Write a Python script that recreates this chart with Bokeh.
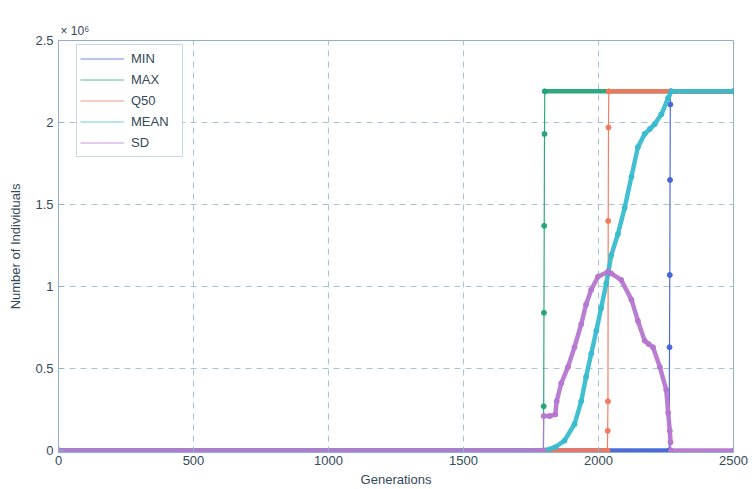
from bokeh.plotting import figure
from bokeh.models import Range1d, Legend, LegendItem, FixedTicker, ColumnDataSource
from bokeh.embed import file_html
from bokeh.resources import INLINE

# ---- data (values in units of 10^6 individuals) ----
gen_min = [0, 2262, 2263, 2264, 2265, 2266, 2267, 2500]
val_min = [0, 0, 0.63, 1.07, 1.65, 2.11, 2.19, 2.19]

gen_max = [0, 1796, 1797, 1798, 1799, 1800, 1801, 2500]
val_max = [0, 0, 0.27, 0.84, 1.37, 1.93, 2.19, 2.19]

gen_q50 = [0, 2033, 2034, 2035, 2036, 2037, 2038, 2500]
val_q50 = [0, 0, 0.12, 0.30, 1.40, 1.97, 2.19, 2.19]

gen_mean = [0, 1799, 1840, 1874, 1911, 1936, 1954, 1973, 1992, 2010, 2029, 2047,
            2072, 2097, 2122, 2146, 2171, 2190, 2208, 2233, 2258, 2270, 2500]
val_mean = [0, 0, 0.02, 0.06, 0.16, 0.30, 0.45, 0.59, 0.73, 0.87, 1.02, 1.19,
            1.32, 1.48, 1.67, 1.85, 1.93, 1.96, 1.99, 2.05, 2.15, 2.19, 2.19]

gen_sd = [0, 1796, 1797, 1820, 1840, 1845, 1862, 1887, 1911, 1936, 1954, 1973, 1998,
          2035, 2047, 2084, 2122, 2146, 2171, 2185, 2202, 2227, 2251, 2258, 2264, 2267, 2268, 2500]
val_sd = [0, 0, 0.21, 0.21, 0.22, 0.30, 0.41, 0.51, 0.63, 0.77, 0.89, 0.98, 1.06,
          1.09, 1.08, 1.04, 0.92, 0.79, 0.67, 0.65, 0.63, 0.51, 0.37, 0.23, 0.12, 0.05, 0, 0]

names = ["MIN", "MAX", "Q50", "MEAN", "SD"]
colors = ["#4464d6", "#24a37a", "#f2775c", "#38bccd", "#b577cf"]
series = [(gen_min, val_min), (gen_max, val_max), (gen_q50, val_q50),
          (gen_mean, val_mean), (gen_sd, val_sd)]

x_ticks = [0, 500, 1000, 1500, 2000, 2500]
y_ticks = [0, 0.5, 1, 1.5, 2, 2.5]
y_tick_labels = ["0", "0.5", "1", "1.5", "2", "2.5"]

FONT = "Liberation Sans"
TXT = "#34495a"
AX = "#8fb0cf"

p = figure(width=752, height=489, output_backend="svg", toolbar_location=None,
           x_range=Range1d(0, 2500), y_range=Range1d(-0.012, 2.5),
           min_border_left=58, min_border_right=19, min_border_top=40, min_border_bottom=36,
           background_fill_color="white", border_fill_color="white",
           title="× 10⁶")
p.title.text_font = FONT
p.title.text_font_size = "12px"
p.title.text_font_style = "normal"
p.title.text_color = TXT
p.title.align = "left"
p.title.offset = 2
p.title.standoff = 5
p.outline_line_color = AX
p.outline_line_width = 1

for ax in (p.xaxis[0], p.yaxis[0]):
    ax.axis_line_color = AX
    ax.major_tick_line_color = AX
    ax.major_tick_in = 5
    ax.major_tick_out = 0
    ax.minor_tick_line_color = None
    ax.major_label_text_font = FONT
    ax.major_label_text_font_size = "13px"
    ax.major_label_text_color = TXT
    ax.axis_label_text_font = FONT
    ax.axis_label_text_font_size = "13px"
    ax.axis_label_text_font_style = "normal"
    ax.axis_label_text_color = TXT

p.xaxis.ticker = FixedTicker(ticks=x_ticks)
p.yaxis.ticker = FixedTicker(ticks=y_ticks)
p.xaxis.major_label_overrides = {t: str(t) for t in x_ticks}
p.yaxis.major_label_overrides = dict(zip(y_ticks, y_tick_labels))
p.xaxis.axis_label = "Generations"
p.yaxis.axis_label = "Number of Individuals"
p.xaxis.major_label_standoff = 3
p.xaxis.axis_label_standoff = 4
p.yaxis.major_label_standoff = 5
p.yaxis.axis_label_standoff = 9

p.xgrid.grid_line_color = "#a9c2da"
p.ygrid.grid_line_color = "#a9c2da"
p.xgrid.grid_line_dash = "6 5"
p.ygrid.grid_line_dash = "6 5"

items = []
for name, col, (g, v) in zip(names, colors, series):
    # consecutive segments: thin for abrupt jumps, thick (dense-marker look) elsewhere
    x0, y0, x1, y1, w = [], [], [], [], []
    for i in range(len(g) - 1):
        x0.append(g[i]); y0.append(v[i]); x1.append(g[i + 1]); y1.append(v[i + 1])
        w.append(1.2 if (g[i + 1] - g[i]) <= 2 else 4.5)
    seg = ColumnDataSource(dict(x0=x0, y0=y0, x1=x1, y1=y1, w=w))
    p.segment("x0", "y0", "x1", "y1", source=seg, line_color=col, line_width="w",
              line_cap="round", line_alpha=0.95)
    src = ColumnDataSource(dict(x=g, y=v))
    p.scatter("x", "y", source=src, size=5, marker="circle", fill_color=col,
              line_color=col, alpha=0.95)
    # legend sample renderer (outside the visible range)
    d1 = p.line(x=[-1000, -900], y=[-1, -1], line_color=col, line_width=1, line_alpha=0.75)
    items.append(LegendItem(label=name, renderers=[d1]))

legend = Legend(items=items, location=(18, 295), orientation="vertical",
                label_text_font=FONT, label_text_font_size="13px", label_text_color=TXT,
                glyph_width=44, glyph_height=21, label_height=21, label_width=48,
                spacing=0, padding=3, margin=0, label_standoff=7,
                border_line_color=AX, border_line_width=1,
                background_fill_color="white", background_fill_alpha=1)
p.add_layout(legend, "center")

open("out.html", "w").write(file_html(p, INLINE))
